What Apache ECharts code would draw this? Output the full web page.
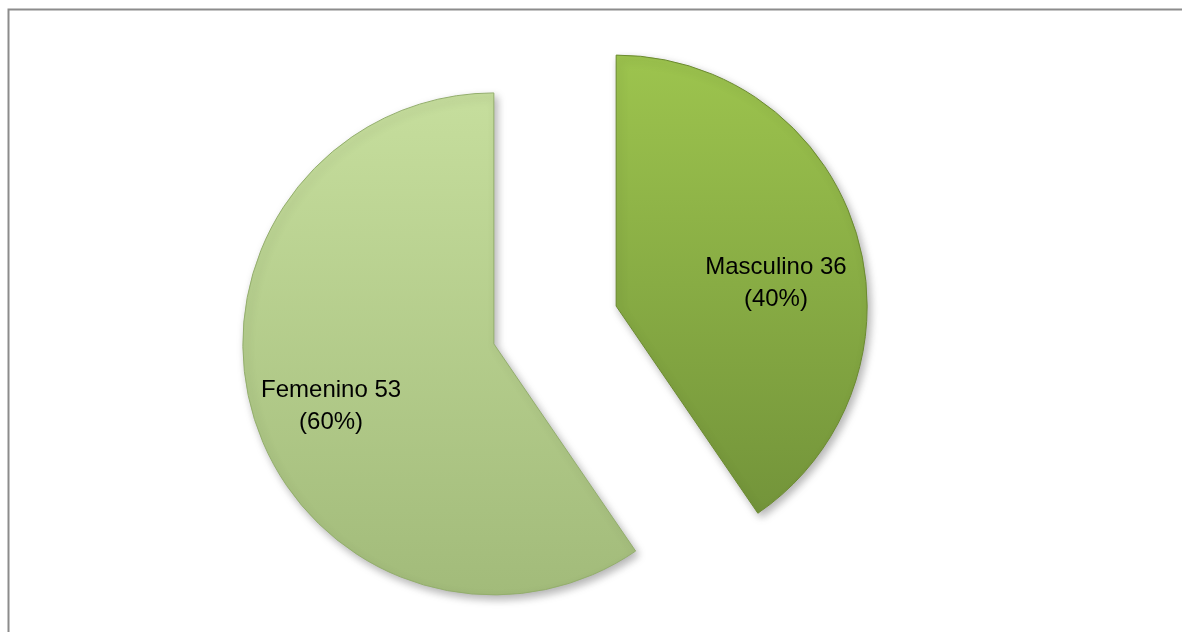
<!DOCTYPE html>
<html>
<head>
<meta charset="utf-8">
<script src="https://cdn.jsdelivr.net/npm/echarts@6/dist/echarts.min.js"></script>
<style>
html,body{margin:0;padding:0;background:#fff;}
#chart{width:1182px;height:632px;}
</style>
</head>
<body>
<div id="chart"></div>
<script>
const categories = ['Masculino', 'Femenino'];
const values = [36, 53];

const chart = echarts.init(document.getElementById('chart'));

const fills = [
  new echarts.graphic.LinearGradient(0, 0, 0, 1, [
    {offset: 0, color: '#9dc44e'},
    {offset: 1, color: '#73943a'}
  ]),
  new echarts.graphic.LinearGradient(0, 0, 0, 1, [
    {offset: 0, color: '#c6de9d'},
    {offset: 1, color: '#a2bb7a'}
  ])
];
const edges = ['#6b8a30', '#93ae6c'];
// horizontal padding and a top spacer nudge the inside labels to the reference spots
const labelPads = [[0, 0, 0, 74], [0, 80, 0, 0]];
const spacers = [30, 48];

chart.setOption({
  animation: false,
  graphic: [{
    type: 'rect',
    shape: {x: 8.5, y: 9.5, width: 1200, height: 700},
    style: {fill: 'none', stroke: '#8c8c8c', lineWidth: 2},
    silent: true
  }],
  series: [{
    type: 'pie',
    center: [555, 325],
    radius: [0, 251],
    startAngle: 90,
    clockwise: true,
    selectedMode: 'multiple',
    selectedOffset: 64,
    percentPrecision: 0,
    emphasis: {disabled: true},
    label: {
      show: true,
      position: 'inside',
      formatter: '{sp| }\n{t|{b} {c}}\n{t|({d}%)}',
      fontFamily: 'Liberation Sans, Arial, sans-serif',
      fontSize: 24,
      lineHeight: 32,
      color: '#000'
    },
    labelLine: {show: false},
    data: categories.map((name, i) => ({
      name: name,
      value: values[i],
      selected: true,
      itemStyle: {
        color: fills[i],
        borderColor: edges[i],
        borderWidth: 1,
        shadowBlur: 8,
        shadowOffsetX: 3,
        shadowOffsetY: 4,
        shadowColor: 'rgba(0,0,0,0.3)'
      },
      label: {
        padding: labelPads[i],
        rich: {
          sp: {fontSize: 2, lineHeight: spacers[i], height: spacers[i]},
          t: {fontFamily: 'Liberation Sans, Arial, sans-serif', fontSize: 24, lineHeight: 32, color: '#000'}
        }
      }
    }))
  }]
});
</script>
</body>
</html>
